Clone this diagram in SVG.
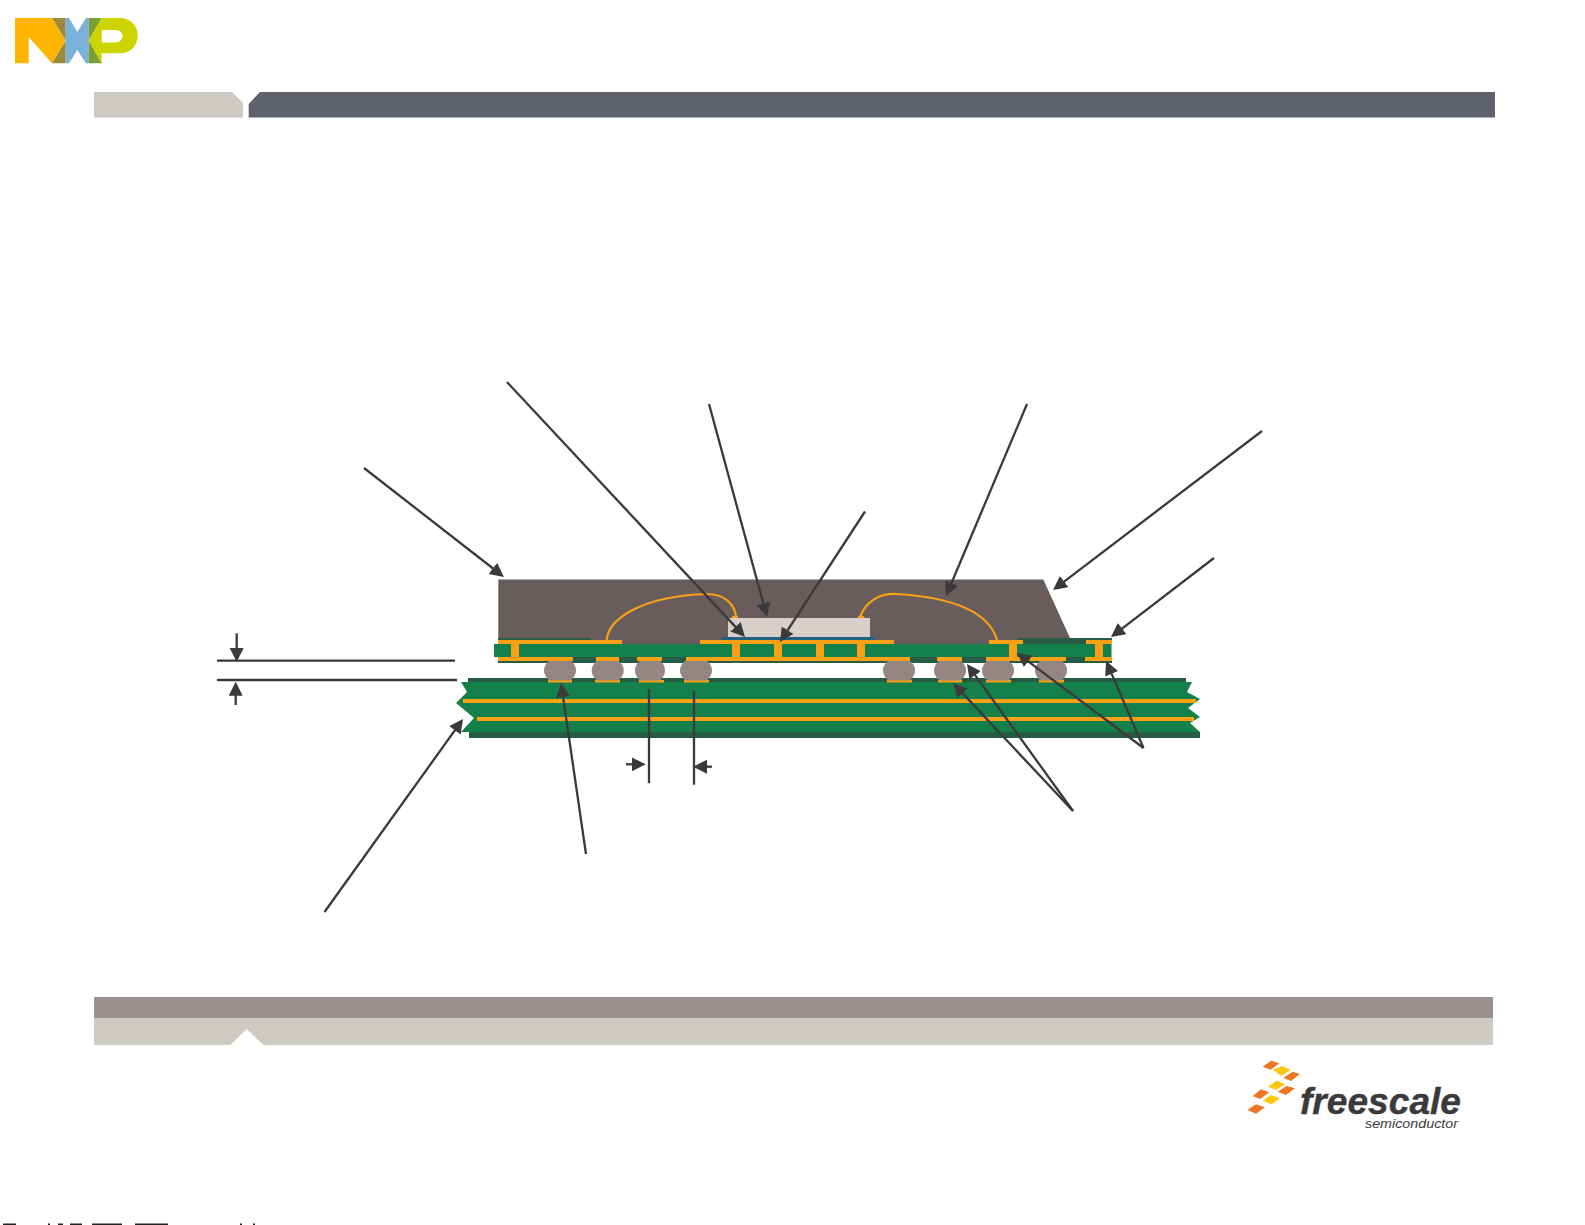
<svg xmlns="http://www.w3.org/2000/svg" width="1585" height="1225" viewBox="0 0 1585 1225">
<style>
.or{fill:#f9a014}.gr{fill:#14804a}.dg{fill:#265c43}.ball{fill:#958583}
.wire{fill:none;stroke:#f9a014;stroke-width:2.200}
.ar{fill:none;stroke:#3a3a3c;stroke-width:2.300;marker-end:url(#ah)}
.ln{fill:none;stroke:#3a3a3c;stroke-width:2.300}
.dm{fill:#ee7623}.dy{fill:#fdc70c}
</style>
<defs>
<marker id="ah" markerUnits="userSpaceOnUse" markerWidth="15" markerHeight="15" refX="10" refY="7" orient="auto"><path d="M0 0L14 7 0 14z" fill="#3a3a3c"/></marker>
<clipPath id="ballclip"><rect x="530" y="661" width="550" height="19.500"/></clipPath>
</defs>
<rect width="1585" height="1225" fill="#fff"/>
<g id="nxp-logo">
<path fill="#ffb500" d="M15 18H28.500L52 18 65.500 40.500 52 63.300 28.700 37V63.300H15z"/>
<path fill="#9b8a3c" d="M52 18H65.700V40.500zM65.700 40.500V63.300H52z"/>
<path fill="#7bb1db" d="M65.700 18H69L77.300 32 86 18H88.700V63.300H86L77.300 50 69 63.300H65.700z"/>
<path fill="#7a9f35" d="M88.700 18H101.700L88.700 40.500zM88.700 40.500L101.700 63.300H88.700z"/>
<path fill="#cdd500" fill-rule="evenodd" d="M101.700 18H120C131 18 137.700 26 137.700 35.500C137.700 45 131 53.300 120 53.300H101.700V63.300L88.700 40.500zM101.700 30V42.500H115C120 42.500 122.500 39.500 122.500 36C122.500 32.500 120 30 115 30z"/>
</g>
<g id="header">
<path fill="#cdcac3" d="M94 92H232L243 103V117.500H94z"/>
<path fill="#5f616d" d="M260 92H1495V117.500H248.700V104z"/>
</g>
<g id="footer">
<rect x="94" y="997" width="1399" height="21" fill="#9c9191"/>
<rect x="94" y="1018" width="1399" height="27" fill="#cdcac3"/>
<path fill="#fff" d="M246.700 1029L264 1045.500H230z"/>
</g>
<g id="freescale-logo">
<path class="dm" d="M1262.700 1066.700L1271 1060.700 1279.300 1063.300 1270.700 1069.700z"/>
<path class="dy" d="M1273 1070L1282.300 1066 1290.700 1070 1281.300 1075.700z"/>
<path class="dm" d="M1283.300 1077.700L1292.700 1071.700 1300 1074 1291 1081z"/>
<path class="dy" d="M1268 1086.700L1276.700 1080.700 1285 1084.300 1276 1090z"/>
<path class="dm" d="M1277.700 1091.700L1286.700 1086 1295 1088.300 1286 1095z"/>
<path class="dm" d="M1252.700 1096L1261 1089.300 1269.300 1092.300 1260 1099z"/>
<path class="dy" d="M1262.700 1100.700L1270.700 1095 1280 1098.300 1271.700 1104.300z"/>
<path class="dm" d="M1247.300 1110L1256 1104.300 1265 1107.300 1256 1113.700z"/>
<text x="1300" y="1114" font-family="'Liberation Sans',Arial,sans-serif" font-weight="700" font-style="italic" font-size="37" textLength="161" lengthAdjust="spacingAndGlyphs" fill="#3a3a3c" stroke="#3a3a3c" stroke-width="0.400">freescale</text>
<text x="1365" y="1128" font-family="'Liberation Sans',Arial,sans-serif" font-style="italic" font-size="12" textLength="93" lengthAdjust="spacingAndGlyphs" fill="#3a3a3c">semiconductor</text>
</g>
<g id="package">
<path id="mold" fill="#685c5c" d="M498.300 579.500H1043.300L1070 638H1018V644H498.300z"/>
<rect x="498" y="638" width="93" height="2.500" class="dg"/>
<rect x="1018" y="638" width="94" height="6" class="dg"/>
<rect x="498" y="657" width="614" height="6" class="dg"/>
<rect x="494" y="644" width="617.500" height="13" class="gr"/>
<g id="substrate-copper" class="or">
<rect x="498" y="640" width="124" height="4"/>
<rect x="700" y="640" width="194" height="4"/>
<rect x="989" y="640" width="34" height="4"/>
<rect x="1086" y="640" width="26" height="4"/>
<rect x="498" y="657" width="75" height="4"/>
<rect x="596" y="657" width="23" height="4"/>
<rect x="637" y="657" width="25" height="4"/>
<rect x="686" y="657" width="224" height="4"/>
<rect x="937" y="657" width="25" height="4"/>
<rect x="986" y="657" width="80" height="4"/>
<rect x="1085" y="657" width="27" height="4"/>
<rect x="511" y="640" width="8" height="21"/>
<rect x="732" y="640" width="8" height="21"/>
<rect x="774" y="640" width="8" height="21"/>
<rect x="816" y="640" width="8" height="21"/>
<rect x="857" y="640" width="8" height="21"/>
<rect x="1009" y="640" width="8" height="21"/>
<rect x="1095" y="640" width="8" height="21"/>
</g>
<g id="die">
<rect x="722" y="637" width="153" height="3" fill="#1f5f7f"/>
<rect x="728" y="618" width="142" height="19" fill="#d8cfcb"/>
<rect x="732" y="616" width="6" height="2" class="or"/>
<rect x="858" y="616" width="6" height="2" class="or"/>
</g>
<path class="wire" d="M606.700 640C608 620 640 596 707 594C724 594 735 604 736 617"/>
<path class="wire" d="M860 617C866 601 880 593 897 594C945 597 988 609 997 640"/>
</g>
<g id="pcb">
<rect x="468" y="678" width="718" height="5" class="dg"/>
<rect x="469" y="732" width="731" height="6" class="dg"/>
<path class="gr" d="M461 682H1192L1187 692 1200 699 1188 708 1200 717 1190 723 1200 732H461L474 718 456 703 467 692z"/>
<rect x="463" y="699" width="733" height="4" class="or"/>
<rect x="477" y="717" width="717" height="4" class="or"/>
<g class="or">
<rect x="548" y="680" width="24" height="2.500"/>
<rect x="595" y="680" width="25" height="2.500"/>
<rect x="639" y="680" width="25" height="2.500"/>
<rect x="684" y="680" width="25" height="2.500"/>
<rect x="887" y="680" width="25" height="2.500"/>
<rect x="938" y="680" width="24" height="2.500"/>
<rect x="986" y="680" width="25" height="2.500"/>
<rect x="1039" y="680" width="25" height="2.500"/>
</g>
</g>
<g id="balls" class="ball" clip-path="url(#ballclip)">
<ellipse cx="560" cy="670.500" rx="16" ry="13"/>
<ellipse cx="607.700" cy="670.500" rx="16" ry="13"/>
<ellipse cx="650" cy="670.500" rx="15" ry="13"/>
<ellipse cx="696" cy="670.500" rx="16" ry="13"/>
<ellipse cx="899" cy="670.500" rx="16" ry="13"/>
<ellipse cx="950" cy="670.500" rx="16" ry="13"/>
<ellipse cx="998" cy="670.500" rx="16" ry="13"/>
<ellipse cx="1051" cy="670.500" rx="16" ry="13"/>
</g>
<g id="connectors">
<path class="ar" d="M364 468L500.800 574.500"/>
<path class="ar" d="M507 382L742.300 634.100"/>
<path class="ar" d="M709 404L766 613.100"/>
<path class="ar" d="M865 511.500L782.200 638.600"/>
<path class="ar" d="M1027 404L947.600 592.300"/>
<path class="ar" d="M1262 431L1056.200 587.600"/>
<path class="ar" d="M1214 558L1114.200 634.600"/>
<path class="ar" d="M1143.500 748L1020.200 655.400"/>
<path class="ar" d="M1143.500 748L1107.700 664.600"/>
<path class="ar" d="M1073 811L955.700 685.900"/>
<path class="ar" d="M1073 811L969.300 667.200"/>
<path class="ar" d="M586 854L561.600 687"/>
<path class="ar" d="M324.500 912L460.700 722.200"/>
<path class="ln" d="M649 689V783.300M694 691V784.700M217 660.700H455M217 680H457"/>
<path class="ar" d="M626 764.300H641.700"/>
<path class="ar" d="M712 766.700H697"/>
<path class="ar" d="M236.700 633.300V658"/>
<path class="ar" d="M235.700 705V685.700"/>
</g>
<g id="page-edge" fill="#222">
<rect x="3" y="1223.500" width="13" height="1.500"/>
<rect x="48" y="1223.500" width="2" height="1.500"/>
<rect x="58" y="1223.500" width="5" height="1.500"/>
<rect x="70" y="1223.500" width="12" height="1.500"/>
<rect x="92" y="1223.500" width="30" height="1.500"/>
<rect x="135" y="1223.500" width="33" height="1.500"/>
<rect x="240" y="1223.500" width="2" height="1.500"/>
<rect x="253" y="1223.500" width="2" height="1.500"/>
</g>
</svg>
